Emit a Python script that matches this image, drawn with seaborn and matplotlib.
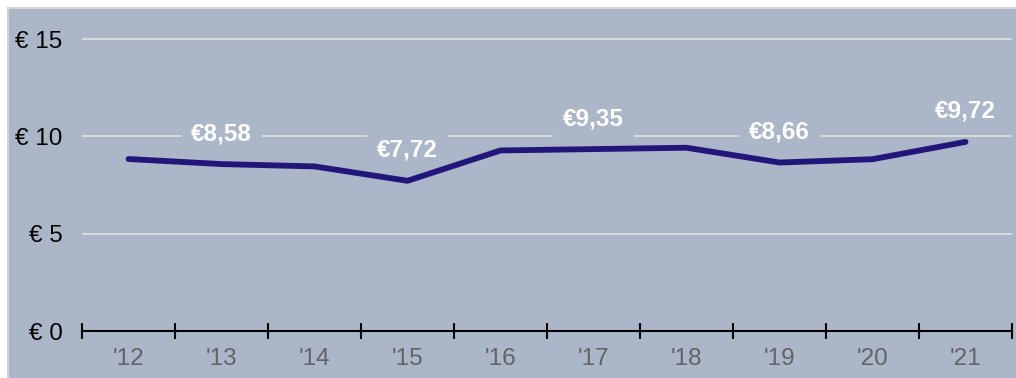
import matplotlib
matplotlib.use("Agg")
import matplotlib.pyplot as plt
from matplotlib.patches import Rectangle
import seaborn as sns
import pandas as pd

years = ["'12", "'13", "'14", "'15", "'16", "'17", "'18", "'19", "'20", "'21"]
prices = [8.84, 8.58, 8.46, 7.72, 9.28, 9.35, 9.42, 8.66, 8.83, 9.72]
labelled_years = ["'13", "'15", "'17", "'19", "'21"]
y_ticks = [0, 5, 10, 15]

BG = "#abb6c9"
LINE = "#22167a"
GRID = "#dadada"
FS = 17.5

sns.set_style("white")
plt.rcParams["font.family"] = ["Liberation Sans", "DejaVu Sans"]

df = pd.DataFrame({"year": years, "price": prices})

fig = plt.figure(figsize=(10.16, 3.78), dpi=100, facecolor="white")

# panel background behind the chart
bg_ax = fig.add_axes([0, 0, 1, 1], zorder=-5)
bg_ax.set_axis_off()
bg_ax.set_xlim(0, 1016)
bg_ax.set_ylim(378, 0)
bg_ax.add_patch(Rectangle((8, 8), 1016, 378, facecolor=BG,
                          edgecolor="#d4d4d4", linewidth=1.5))

ax = fig.add_axes([82 / 1016, 47 / 378, 930 / 1016, (331 - 10) / 378])
ax.set_facecolor("none")

sns.lineplot(data=df, x="year", y="price", ax=ax, color=LINE, linewidth=4.2,
             solid_capstyle="round", zorder=3)

ax.set_xlim(-0.5, len(years) - 0.5)
ax.set_ylim(0, 16.5)

for spine in ["left", "right", "top"]:
    ax.spines[spine].set_visible(False)
ax.spines["bottom"].set_color("black")
ax.spines["bottom"].set_linewidth(1.5)

ax.set_yticks(y_ticks)
ax.set_yticklabels([f"€ {v}" for v in y_ticks])
ax.tick_params(axis="y", left=True, length=0, pad=14, labelsize=FS,
               labelcolor="black")
for v in y_ticks[1:]:
    ax.axhline(v, color=GRID, linewidth=1.4, zorder=1)

ax.set_xticks(range(len(years)))
ax.set_xticklabels(years)
ax.set_xticks([i - 0.5 for i in range(len(years) + 1)], minor=True)
ax.tick_params(axis="x", which="major", bottom=True, length=0, pad=12,
               labelsize=FS, labelcolor="#636363")
ax.tick_params(axis="x", which="minor", bottom=True, length=11, width=1.5,
               direction="inout", color="black")
ax.set_xlabel("")
ax.set_ylabel("")

# value labels sit above the gridlines but below the price line
for i, (yr, p) in enumerate(zip(years, prices)):
    if yr in labelled_years:
        ax.annotate(f"€{p:.2f}".replace(".", ","), (i, p),
                    xytext=(0, 22), textcoords="offset points",
                    ha="center", va="center", color="white",
                    fontsize=FS, fontweight="bold", zorder=2,
                    bbox=dict(boxstyle="square,pad=0.4", facecolor=BG,
                              edgecolor="none"))

fig.savefig("out.png", dpi=100, facecolor=fig.get_facecolor())
